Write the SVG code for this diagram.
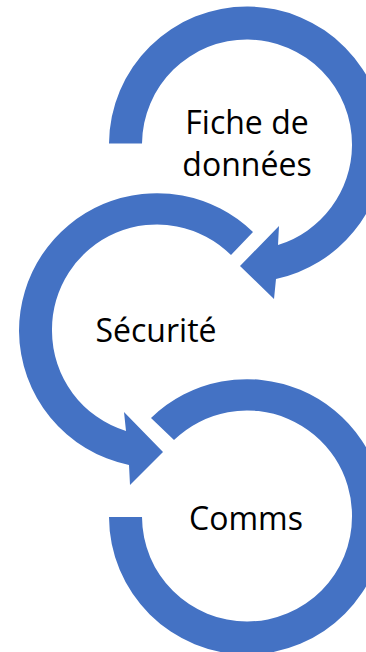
<svg xmlns="http://www.w3.org/2000/svg" width="366" height="652" viewBox="0 0 366 652">
<style>
.a{fill:#4472c4}
.t{font-family:"Open Sans","Noto Sans",sans-serif;font-size:32px;fill:#000;text-anchor:middle}
</style>
<rect width="366" height="652" fill="#fff"/>
<g id="connectors">
<path class="a" d="M109 143.500A138 138 0 0 1 385 145.500A138 138 0 0 1 276 279L274 299L240 266L279 226L278 245A105 105 0 0 0 352 145.500A105 105 0 0 0 142 143.500Z"/>
<path class="a" d="M253 232A138 138 0 0 0 19 331A138 138 0 0 0 129 465L130 485L163 452L124 412L126 431A105 105 0 0 1 52 331A105 105 0 0 1 231 255Z"/>
<path class="a" d="M151 418A138 138 0 0 1 385 516A138 138 0 0 1 109 517L142 517A105 105 0 0 0 352 516A105 105 0 0 0 174 440Z"/>
</g>
<g id="n1"><text class="t" x="247" y="134">Fiche de</text><text class="t" x="247" y="176">données</text></g>
<g id="n2"><text class="t" x="156" y="342">Sécurité</text></g>
<g id="n3"><text class="t" x="246" y="530">Comms</text></g>
</svg>
